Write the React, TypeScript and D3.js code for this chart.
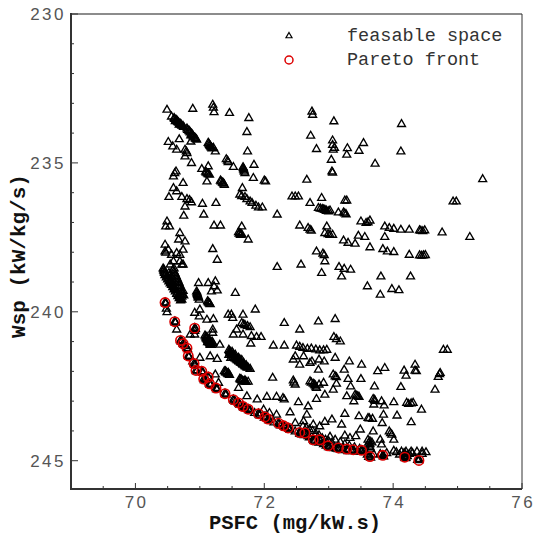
import React from "react";
import * as d3 from "d3";

const xTickValues = [70, 72, 74, 76];
const yTickValues = [230, 235, 240, 245];
const xMinorTicks = [69.5, 70.5, 71, 71.5, 72.5, 73, 73.5, 74.5, 75, 75.5];
const yMinorTicks = [231, 232, 233, 234, 236, 237, 238, 239, 241, 242, 243, 244];
const legendLabels = ["feasable space", "Pareto front"];
const xTitle = "PSFC (mg/kW.s)";
const yTitle = "Wsp (kW/kg/s)";

const feasible: [number, number][] = [
  [70.49,233.22],[70.56,233.45],[70.60,233.50],[70.63,233.56],[70.65,233.60],[70.67,233.65],[70.70,233.70],[70.72,233.75],[70.75,233.80],
  [70.61,233.53],[70.64,233.58],[70.66,233.63],[70.69,233.68],[70.71,233.72],[70.74,233.77],[70.62,233.60],[70.68,233.72],
  [70.89,233.19],[71.20,233.05],[71.21,233.15],[71.22,233.30],[71.46,233.33],[71.76,233.50],
  [70.80,233.85],[70.83,233.92],[70.85,233.98],[70.88,234.05],[70.90,234.12],[70.93,234.18],[70.95,234.22],
  [70.81,233.90],[70.84,233.95],[70.87,234.02],[70.89,234.08],[70.92,234.15],[70.94,234.20],[70.86,234.08],
  [70.68,234.21],[70.86,234.29],
  [70.51,234.30],[70.58,234.45],[70.64,234.56],[70.77,234.56],[70.77,234.79],[70.79,234.62],[70.80,234.68],
  [71.73,233.97],
  [71.13,234.33],[71.15,234.40],[71.17,234.46],[71.19,234.52],[71.21,234.50],[71.14,234.36],[71.16,234.43],[71.18,234.49],
  [71.24,234.62],[71.74,234.62],[70.87,235.01],
  [71.41,234.88],[71.43,234.93],[71.44,234.98],
  [71.84,235.07],
  [71.67,235.15],[71.68,235.22],[71.69,235.30],[71.70,235.35],[71.675,235.18],[71.685,235.26],
  [71.52,235.14],[71.03,235.21],[71.13,235.12],
  [71.09,235.30],[71.12,235.36],[71.15,235.40],[71.10,235.33],[71.13,235.38],
  [70.63,235.29],[70.59,235.46],[70.61,235.35],
  [71.83,235.51],[72.00,235.60],[72.02,235.63],[72.66,235.57],
  [70.74,235.68],[71.11,235.63],
  [71.32,235.60],[71.35,235.66],[71.37,235.70],[71.38,235.74],[71.33,235.63],[71.36,235.68],
  [71.66,235.85],
  [70.59,235.85],[70.64,235.96],[70.52,236.15],
  [70.72,236.15],[70.80,236.22],[70.87,236.33],[70.84,236.25],
  [70.77,236.47],[71.04,236.38],[71.25,236.35],
  [71.62,236.07],[71.65,236.12],[71.70,236.15],[71.73,236.22],[71.78,236.30],[71.81,236.35],[71.87,236.44],[71.91,236.50],[71.97,236.50],
  [72.43,236.13],[72.48,236.13],[72.53,236.13],
  [72.71,236.35],[72.89,236.18],
  [72.84,236.52],[72.90,236.55],[72.94,236.58],[72.97,236.62],[73.00,236.63],[72.87,236.54],[72.92,236.57],[72.96,236.60],
  [70.75,236.78],[71.06,236.74],[72.20,236.74],
  [70.49,236.97],[70.53,237.14],[70.47,237.14],
  [71.22,237.11],[71.32,237.11],[71.65,237.14],
  [71.60,237.33],[71.61,237.38],[71.63,237.42],[71.65,237.40],[71.62,237.36],[71.64,237.41],
  [71.75,237.58],
  [72.55,237.11],[72.68,237.19],[72.71,237.25],[72.73,237.28],
  [72.94,237.36],[72.97,237.14],[72.99,237.40],[73.02,237.42],
  [70.69,237.36],[70.67,237.58],[70.77,237.64],
  [70.46,237.75],[70.46,237.98],[70.51,237.92],[70.47,238.02],
  [70.56,238.09],[70.64,238.03],[70.69,238.09],[70.74,237.92],
  [70.59,238.31],[70.69,238.31],[70.74,238.42],
  [71.20,237.90],[71.27,238.26],[72.20,238.50],[72.57,238.42],
  [72.81,237.98],[72.91,238.05],[72.94,238.31],[72.93,238.10],
  [72.89,238.70],
  [72.74,233.28],[72.75,233.39],[72.72,234.09],[72.81,234.54],
  [70.43,238.55],[70.44,238.62],[70.45,238.70],[70.46,238.77],[70.48,238.85],[70.50,238.92],[70.52,238.98],[70.54,239.05],[70.56,239.10],[70.58,239.18],[70.60,239.25],[70.62,239.32],[70.64,239.40],[70.66,239.48],[70.68,239.55],[70.70,239.62],
  [70.60,238.65],[70.62,238.75],[70.64,238.85],[70.66,238.95],[70.68,239.05],[70.70,239.20],[70.72,239.35],[70.72,239.50],
  [70.50,238.80],[70.55,238.95],[70.74,239.30],[70.75,239.45],[70.72,239.60],
  [70.54,238.42],[70.72,238.42],[70.60,238.55],
  [70.44,238.58],[70.45,238.66],[70.47,238.74],[70.49,238.82],[70.51,238.88],[70.53,238.94],[70.55,239.01],[70.57,239.08],[70.59,239.14],[70.61,239.21],[70.63,239.28],[70.65,239.36],[70.67,239.44],[70.69,239.52],[70.71,239.58],
  [70.58,238.60],[70.61,238.70],[70.63,238.80],[70.65,238.90],[70.67,239.00],[70.69,239.12],[70.71,239.27],[70.73,239.42],[70.52,238.70],[70.56,238.85],[70.66,239.15],[70.70,239.40],
  [70.98,239.04],[71.13,239.04],[71.24,238.98],[71.27,239.29],[71.18,239.32],[71.22,239.15],
  [70.95,239.32],[70.96,239.40],[70.97,239.48],[70.98,239.52],[70.99,239.60],[70.955,239.36],[70.965,239.44],[70.975,239.52],
  [71.55,239.37],
  [71.12,239.65],[71.14,239.70],[71.16,239.75],[71.13,239.68],[71.15,239.73],
  [70.49,240.02],[70.64,240.60],[70.48,239.90],
  [70.92,240.04],[71.00,239.93],[70.99,240.16],[71.11,240.27],[71.21,240.25],
  [71.44,240.10],[71.49,240.10],[71.51,240.21],[71.67,240.10],[71.86,239.93],
  [71.65,240.38],[71.68,240.42],[71.70,240.45],[71.74,240.48],[71.78,240.52],
  [71.57,240.60],[71.52,240.77],[71.67,240.77],[71.80,240.82],[71.88,240.85],[71.95,240.85],
  [70.92,240.65],[70.92,240.77],[71.20,240.60],[71.20,240.71],
  [71.08,240.80],[71.10,240.88],[71.12,240.95],[71.14,241.02],[71.16,241.08],[71.18,241.12],[71.13,240.98],[71.20,241.05],
  [71.09,240.84],[71.11,240.92],[71.13,241.00],[71.15,241.05],[71.17,241.10],[71.11,240.84],[71.15,240.95],[71.19,241.00],
  [71.10,240.90],[71.14,240.97],[71.18,241.05],[71.12,241.02],[71.16,241.12],
  [71.31,241.11],[71.79,241.07],[70.85,240.77],
  [71.45,241.28],[71.47,241.35],[71.49,241.42],[71.51,241.48],[71.54,241.55],[71.57,241.60],[71.60,241.65],[71.63,241.70],[71.66,241.75],[71.69,241.80],[71.72,241.85],[71.75,241.88],[71.78,241.92],[71.45,241.45],[71.48,241.55],
  [71.46,241.32],[71.48,241.38],[71.50,241.45],[71.52,241.52],[71.55,241.58],[71.58,241.63],[71.61,241.68],[71.64,241.72],[71.67,241.78],[71.70,241.83],[71.73,241.87],[71.50,241.35],[71.55,241.45],[71.60,241.55],[71.65,241.62],
  [71.47,241.40],[71.52,241.42],[71.58,241.58],[71.62,241.60],[71.68,241.72],[71.72,241.80],
  [71.16,241.50],[71.27,241.59],[71.00,241.55],
  [70.89,241.67],
  [71.38,242.00],[71.41,242.05],[71.43,242.08],[71.46,242.12],[71.40,242.03],[71.44,242.10],[71.40,242.00],[71.44,242.05],
  [71.62,242.25],[71.65,242.30],[71.68,242.34],[71.72,242.36],[71.75,242.35],[71.63,242.28],[71.66,242.32],[71.70,242.35],[71.64,242.27],[71.70,242.30],
  [71.24,242.11],[71.29,242.39],[71.60,242.56],
  [71.73,242.84],[71.89,242.95],[72.04,242.86],[72.19,242.86],[72.29,242.90],[72.31,242.95],
  [72.13,242.22],
  [72.31,240.38],[72.55,240.60],[72.84,240.33],
  [72.14,241.14],[72.31,241.14],
  [72.50,241.14],[72.55,241.18],[72.60,241.22],[72.67,241.25],[72.73,241.24],[72.80,241.27],[72.86,241.30],[72.92,241.30],[72.97,241.28],
  [72.48,241.50],[72.61,241.50],[72.45,241.61],
  [72.74,241.67],[72.85,241.61],[72.93,241.67],
  [72.55,241.78],[72.71,241.72],[72.84,241.95],
  [72.45,242.31],[72.48,242.45],[72.46,242.38],
  [72.71,242.34],[72.76,242.42],[72.79,242.48],[72.81,242.56],[72.85,242.45],[72.73,242.38],[72.78,242.45],[72.80,242.52],
  [72.92,242.39],
  [72.53,243.04],[72.68,243.18],[72.81,242.93],[72.94,242.79],
  [72.40,243.38],[72.66,243.46],
  [72.48,243.74],[72.61,243.68],[72.76,243.79],[72.86,243.85],[72.94,243.70],
  [72.08,243.40],[72.19,243.46],[71.99,243.29],
  [73.08,233.61],[74.13,233.70],
  [73.06,234.25],[73.06,234.40],[73.07,234.56],[73.09,234.50],
  [73.29,234.51],[73.28,234.73],[73.54,234.34],[73.47,234.60],
  [74.12,234.62],[73.72,235.03],
  [73.04,234.90],[73.05,235.29],[73.06,235.33],
  [75.39,235.55],
  [73.25,236.27],[73.28,236.27],[74.93,236.30],[74.98,236.30],
  [73.02,236.60],[73.15,236.67],[73.23,236.67],[73.25,236.70],[73.27,236.73],
  [73.50,236.97],[73.64,236.94],[73.61,237.00],[73.58,237.02],
  [73.87,237.14],[73.94,237.19],[74.01,237.22],[74.12,237.25],[74.25,237.25],[74.41,237.27],[74.49,237.27],[74.43,237.28],[74.46,237.30],
  [74.76,237.34],[75.19,237.49],
  [73.06,237.42],
  [73.23,237.61],[73.30,237.69],[73.41,237.72],[73.46,237.45],[73.56,237.49],
  [73.87,237.49],[73.64,237.84],
  [73.84,237.90],[73.91,237.98],[74.01,238.00],
  [74.25,238.09],[74.41,238.11],[74.47,238.11],[74.44,238.12],[74.50,238.10],
  [73.16,238.50],[73.24,238.56],[73.34,238.59],
  [73.20,238.82],[73.81,238.82],[74.27,238.82],
  [73.60,239.15],[73.80,239.43],[73.98,239.24],[74.09,239.28],
  [73.10,240.25],
  [73.08,240.85],[73.18,241.00],[73.12,240.92],
  [74.78,241.28],[74.84,241.28],
  [73.10,241.55],[73.32,241.67],[73.51,241.78],[73.24,241.95],
  [73.07,242.11],[73.10,242.17],[73.12,242.20],
  [73.30,242.26],[73.50,242.26],
  [73.76,242.00],[73.87,241.89],
  [74.17,241.98],[74.20,242.15],[74.34,241.78],[74.34,241.98],[74.36,242.00],
  [74.73,242.06],[74.70,242.19],[74.65,242.62],[74.72,242.10],
  [73.12,242.42],[73.07,242.62],
  [73.34,242.51],[73.71,242.51],[74.12,242.53],
  [73.28,242.84],[73.41,242.79],[73.47,242.86],[73.39,243.01],[73.43,242.82],[73.45,242.84],
  [73.69,242.93],[73.70,243.12],[73.82,243.01],[73.86,243.15],[73.71,242.96],[73.72,243.00],
  [74.01,243.04],
  [74.21,243.06],[74.31,243.06],[74.24,243.10],[74.28,243.08],
  [74.44,243.29],
  [73.25,243.43],[73.05,243.62],[73.20,243.79],
  [73.47,243.51],[73.61,243.57],[73.68,243.60],[73.63,243.58],
  [73.85,243.46],[73.83,243.74],[74.06,243.49],[74.28,243.71],
  [73.49,243.96],[73.69,244.02],
  [73.94,244.02],[73.98,244.13],[74.01,244.30],[73.96,244.08],
  [73.25,244.16],[73.33,244.24],[73.42,244.18],
  [73.61,244.30],[73.67,244.39],[73.64,244.35],[73.63,244.50],[73.65,244.60],[73.62,244.40],[73.64,244.45],[73.64,244.55],
  [73.80,244.30],[73.82,244.46],
  [74.01,244.67],[74.13,244.70],[74.20,244.70],[74.28,244.70],[74.37,244.70],[74.45,244.70],[74.51,244.72],
  [74.17,244.75],[74.19,244.80],[74.22,244.85],[74.18,244.90],[74.40,244.95],
  [72.60,243.85],[72.65,243.90],[72.70,243.95],[72.75,244.00],[72.80,244.10],[72.85,244.15],[72.90,244.25],[72.95,244.30],[73.00,244.35],[73.05,244.40],
  [73.02,244.20],[73.10,244.30],[73.18,244.38],[73.25,244.45],[73.32,244.50],[73.40,244.55],[73.48,244.60],
  [72.58,244.12],[72.68,244.18],[72.82,244.38],[72.96,244.50],[73.12,244.60],[73.35,244.66],[73.50,244.68],[73.60,244.80],[73.70,244.80],[73.80,244.78],[73.90,244.75],[74.05,244.72],[74.10,244.80],[74.25,244.78],[74.30,244.75],[74.45,244.78],
  [71.55,243.02],[71.62,243.12],[71.70,243.22],[71.78,243.32],[71.85,243.40],[71.93,243.48],[72.00,243.56],[72.08,243.64],[72.15,243.72],[72.25,243.82],[72.33,243.90],[72.40,243.96],[72.48,244.02],[72.55,244.10],[72.62,244.15],[72.70,244.22],[72.78,244.35],[72.85,244.40],[72.92,244.45],[73.00,244.55],[73.08,244.58],[73.15,244.62],[73.22,244.65],[73.30,244.68],[73.38,244.68],[73.45,244.70],[73.55,244.70],[73.62,244.88],[73.85,244.85],[74.20,244.90],[74.38,244.98],
  [70.47,239.70],[70.62,240.35],[70.93,240.57],[70.72,241.00],[70.78,241.15],[70.83,241.50],[70.93,241.78],[71.05,242.05],[71.10,242.25],[71.17,242.45],[71.27,242.60],[71.41,242.78],
  [70.47,239.73],[70.62,240.37],[70.93,240.59],[70.71,241.00],[70.75,241.11],[70.81,241.26],[70.83,241.52],[70.92,241.78],[70.95,242.01],[71.04,242.04],[71.07,242.30],[71.14,242.23],[71.16,242.46],[71.26,242.60],[71.40,242.79],[71.53,242.99],[71.61,243.10],[71.68,243.22],[71.76,243.31],[71.92,243.46],[72.02,243.57],[72.07,243.64],[72.23,243.78],[72.31,243.87],[72.38,243.94],[72.56,244.09],[72.64,244.11],[72.77,244.34],[72.87,244.34],[73.00,244.54],[73.16,244.61],[73.29,244.65],[73.39,244.67],[73.52,244.69],[73.65,244.90],[73.85,244.86],[74.19,244.92],
];

const pareto: [number, number][] = [
  [70.46,239.69],[70.61,240.33],[70.92,240.55],[70.70,240.96],[70.74,241.07],[70.80,241.22],
  [70.82,241.48],[70.91,241.74],[70.94,241.97],[71.03,242.00],[71.06,242.26],[71.13,242.19],
  [71.15,242.42],[71.25,242.56],[71.39,242.75],[71.52,242.95],[71.60,243.06],[71.67,243.18],
  [71.75,243.27],[71.91,243.42],[72.01,243.53],[72.06,243.60],[72.22,243.74],[72.30,243.83],
  [72.37,243.90],[72.55,244.05],[72.63,244.07],[72.76,244.30],[72.86,244.30],[72.99,244.50],
  [73.15,244.57],[73.28,244.61],[73.38,244.63],[73.51,244.65],[73.64,244.86],[73.84,244.82],
  [74.18,244.88],[74.40,244.99],
];

const W = 534, H = 534;
const xScale = d3.scaleLinear().domain([69, 76]).range([71, 522]);
const yScale = d3.scaleLinear().domain([230, 245.95]).range([14, 489]);
const triPath = d3.symbol(d3.symbolTriangle, 27)() as string;
const triSmall = d3.symbol(d3.symbolTriangle, 16)() as string;

export default function App() {
  const x0 = xScale.range()[0], x1 = xScale.range()[1];
  const y0 = yScale.range()[0], y1 = yScale.range()[1];
  const red = "#dd0000";
  // Pareto points are members of the feasible space too, so they also get a triangle.
  const allFeasible = feasible.concat(pareto);
  return (
    <svg width={W} height={H} style={{ position: "absolute", left: 0, top: 0, background: "#fff" }}>
      <rect x={0} y={0} width={W} height={H} fill="#fff" />
      <line x1={x0} x2={x1} y1={y0} y2={y0} stroke="#666" strokeWidth={1.5} />
      <line x1={x1} x2={x1} y1={y0} y2={y1} stroke="#333" strokeWidth={1} />
      <line x1={x0} x2={x0} y1={y0 - 1} y2={y1 + 1} stroke="#333" strokeWidth={2} />
      <line x1={x0 - 1} x2={x1} y1={y1} y2={y1} stroke="#333" strokeWidth={2} />
      {xTickValues.map((v) => (
        <g key={"xt" + v}>
          <line x1={xScale(v)} x2={xScale(v)} y1={y1} y2={y1 - 6} stroke="#333" strokeWidth={1} />
          <text x={xScale(v) + 1.2} y={508} textAnchor="middle" fontFamily="Liberation Sans, Arial, sans-serif" fontSize={17} letterSpacing={2.5} fill="#555">{v}</text>
        </g>
      ))}
      {xMinorTicks.map((v) => (
        <line key={"xm" + v} x1={xScale(v)} x2={xScale(v)} y1={y1} y2={y1 - 3} stroke="#333" strokeWidth={1} />
      ))}
      {yTickValues.map((v) => (
        <g key={"yt" + v}>
          <line x1={x0} x2={x0 + 7} y1={yScale(v)} y2={yScale(v)} stroke="#333" strokeWidth={1} />
          <text x={66} y={yScale(v)} dy="0.35em" textAnchor="end" fontFamily="Liberation Sans, Arial, sans-serif" fontSize={17} letterSpacing={2.5} fill="#555">{v}</text>
        </g>
      ))}
      {yMinorTicks.map((v) => (
        <line key={"ym" + v} x1={x0} x2={x0 + 3} y1={yScale(v)} y2={yScale(v)} stroke="#333" strokeWidth={1} />
      ))}
      <g>
        {allFeasible.map((d, i) => (
          <path key={"f" + i} d={triPath} transform={`translate(${xScale(d[0])},${yScale(d[1])})`} fill="none" stroke="#000" strokeWidth={1.35} />
        ))}
      </g>
      <g>
        {pareto.map((d, i) => (
          <circle key={"p" + i} cx={xScale(d[0])} cy={yScale(d[1])} r={4.7} fill="none" stroke={red} strokeWidth={1.6} />
        ))}
      </g>
      <path d={triSmall} transform="translate(289,36)" fill="none" stroke="#000" strokeWidth={1.2} />
      <circle cx={289} cy={60} r={4} fill="none" stroke={red} strokeWidth={1.5} />
      {legendLabels.map((t, i) => (
        <text key={t} x={347} y={41 + i * 24} fontFamily="Liberation Mono, Courier New, monospace" fontSize={18.5} fill="#333">{t}</text>
      ))}
      <text x={295} y={529} textAnchor="middle" fontFamily="Liberation Mono, Courier New, monospace" fontWeight="bold" fontSize={20.5} fill="#111">{xTitle}</text>
      <text transform="translate(25,256) rotate(-90)" textAnchor="middle" fontFamily="Liberation Mono, Courier New, monospace" fontWeight="bold" fontSize={21} fill="#111">{yTitle}</text>
    </svg>
  );
}
